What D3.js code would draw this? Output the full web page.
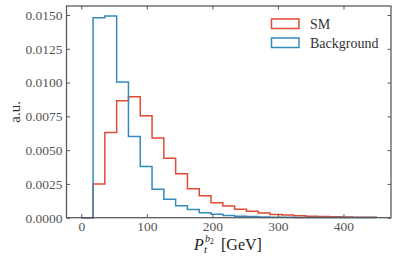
<!DOCTYPE html>
<html>
<head>
<meta charset="utf-8">
<script src="https://cdn.jsdelivr.net/npm/d3@7"></script>
<style>
  body { margin: 0; background: #fff; }
  text { font-family: "Liberation Serif", "Times New Roman", serif; }
</style>
</head>
<body>
<div id="plot"></div>
<script>
// histogram bins: 25 bins of 18 GeV from 0 to 450, density normalised
const binEdges = d3.range(0, 451, 18);
const smValues = [0, 0.0025, 0.0063, 0.00866, 0.00895, 0.00754, 0.00589, 0.0044, 0.00325, 0.00215,
    0.00163, 0.00111, 0.00087, 0.00063, 0.00048, 0.00035, 0.00024, 0.0002, 0.00015, 0.00011,
    0.00009, 0.00007, 0.00005, 0.00004, 0.00003];
const bgValues = [0, 0.01479, 0.01492, 0.01005, 0.0060, 0.00378, 0.0021, 0.00137, 0.00089, 0.0006,
    0.00037, 0.00025, 0.00016, 0.00011, 0.00008, 0.00006, 0.00004, 0.00003, 0.00002, 0.00002,
    0.00001, 0.00001, 0.00001, 0.00001, 0.00001];
const xTicks = [0, 100, 200, 300, 400];
const yTicks = [0, 0.0025, 0.005, 0.0075, 0.01, 0.0125, 0.015];
const seriesNames = ["SM", "Background"];
const seriesColors = ["#E24A33", "#348ABD"];

const width = 398, height = 265;
const plotLeft = 66.5, plotRight = 391, plotTop = 6, plotBottom = 217.7;
const axisColor = "#555";

const svg = d3.select("#plot").append("svg")
    .attr("width", width)
    .attr("height", height);

const x = d3.scaleLinear().domain([-22.5, 472.5]).range([plotLeft, plotRight]);
const yMax = d3.max(bgValues.concat(smValues)) * 1.05;
const y = d3.scaleLinear().domain([0, yMax]).range([plotBottom, plotTop]);

// step outline like matplotlib histtype="step"
function stepPoints(vals) {
    const pts = [[binEdges[0], 0]];
    vals.forEach((v, i) => {
        pts.push([binEdges[i], v]);
        pts.push([binEdges[i + 1], v]);
    });
    pts.push([binEdges[binEdges.length - 1], 0]);
    return pts;
}

const line = d3.line().x(d => x(d[0])).y(d => y(d[1]));

[smValues, bgValues].forEach((vals, i) => {
    svg.append("path")
        .attr("d", line(stepPoints(vals)))
        .attr("fill", "none")
        .attr("stroke", seriesColors[i])
        .attr("stroke-width", 1.5)
        .attr("stroke-linejoin", "miter");
});

// axes, ticks pointing in
const tickLen = 3.5;
const xAxisB = d3.axisBottom(x).tickValues(xTicks).tickSizeInner(-tickLen).tickSizeOuter(0).tickPadding(4);
const xAxisT = d3.axisTop(x).tickValues(xTicks).tickSizeInner(-tickLen).tickSizeOuter(0).tickFormat("");
const yAxisL = d3.axisLeft(y).tickValues(yTicks).tickSizeInner(-tickLen).tickSizeOuter(0).tickPadding(4)
    .tickFormat(d3.format(".4f"));
const yAxisR = d3.axisRight(y).tickValues(yTicks).tickSizeInner(-tickLen).tickSizeOuter(0).tickFormat("");

function styleAxis(g) {
    g.select(".domain").remove();
    g.selectAll(".tick line").attr("stroke", axisColor).attr("stroke-width", 1);
    g.selectAll(".tick text").attr("fill", "#555").attr("font-size", "13.5px")
        .attr("font-family", "Liberation Serif, serif");
}

svg.append("g").attr("transform", `translate(0,${plotBottom})`).call(xAxisB).call(styleAxis);
svg.append("g").attr("transform", `translate(0,${plotTop})`).call(xAxisT).call(styleAxis);
svg.append("g").attr("transform", `translate(${plotLeft},0)`).call(yAxisL).call(styleAxis);
svg.append("g").attr("transform", `translate(${plotRight},0)`).call(yAxisR).call(styleAxis);

// frame
svg.append("rect")
    .attr("x", plotLeft).attr("y", plotTop)
    .attr("width", plotRight - plotLeft).attr("height", plotBottom - plotTop)
    .attr("fill", "none")
    .attr("stroke", axisColor)
    .attr("stroke-width", 1.25);

// legend
const legend = svg.append("g").attr("transform", "translate(271,19)");
seriesNames.forEach((name, i) => {
    const g = legend.append("g").attr("transform", `translate(0,${i * 19})`);
    g.append("rect")
        .attr("x", 0.5).attr("y", 0)
        .attr("width", 27.5).attr("height", 9.5)
        .attr("fill", "none")
        .attr("stroke", seriesColors[i])
        .attr("stroke-width", 1.5);
    g.append("text")
        .attr("x", 39).attr("y", 9.5)
        .attr("font-size", "14px")
        .attr("fill", "#333")
        .text(name);
});

// y label
svg.append("text")
    .attr("transform", `translate(20,${(plotTop + plotBottom) / 2}) rotate(-90)`)
    .attr("text-anchor", "middle")
    .attr("font-size", "15px")
    .attr("fill", "#333")
    .text("a.u.");

// x label  P_t^{b_2} [GeV]
const xl = svg.append("g").attr("fill", "#222");
xl.append("text").attr("x", 194).attr("y", 249.5)
    .attr("font-size", "16px").attr("font-style", "italic").text("P");
xl.append("text").attr("x", 204).attr("y", 253)
    .attr("font-size", "11px").attr("font-style", "italic").text("t");
xl.append("text").attr("x", 205).attr("y", 242)
    .attr("font-size", "10px").attr("font-style", "italic").text("b");
xl.append("text").attr("x", 210).attr("y", 244)
    .attr("font-size", "7.5px").text("2");
xl.append("text").attr("x", 221).attr("y", 249.5)
    .attr("font-size", "16px").text("[GeV]");
</script>
</body>
</html>
